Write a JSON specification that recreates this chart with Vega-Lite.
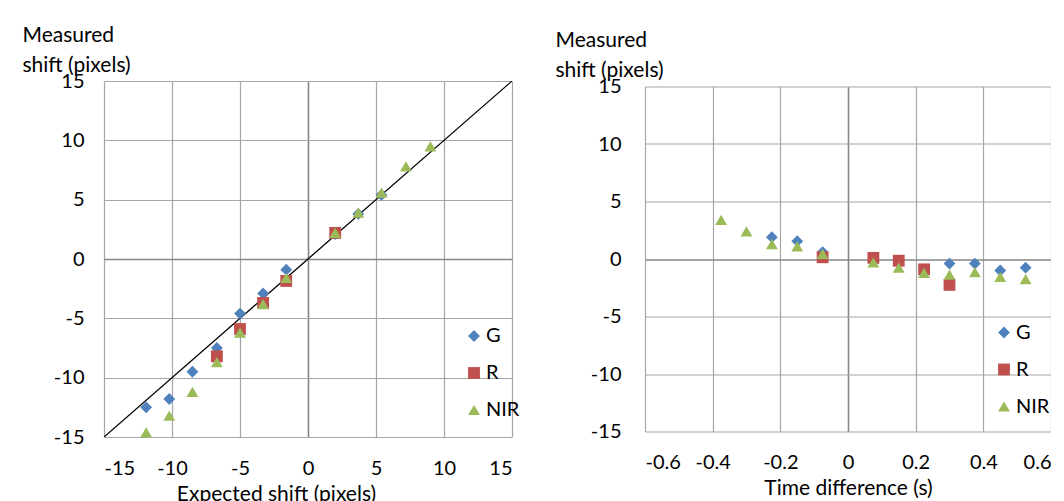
{
  "$schema": "https://vega.github.io/schema/vega-lite/v6.json",
  "padding": {"left": 22, "top": 24, "right": 0, "bottom": 0},
  "spacing": 35,
  "center": true,
  "background": "white",
  "config": {
    "font": "Lato",
    "view": {"stroke": null},
    "axis": {
      "grid": true,
      "gridColor": {"condition": {"test": "datum.value === 0", "value": "#868686"}, "value": "#a6a6a6"},
      "gridWidth": {"condition": {"test": "datum.value === 0", "value": 1.6}, "value": 1.2},
      "gridOpacity": 1,
      "domain": false, "ticks": false,
      "labelFont": "Lato", "labelFontSize": 20, "labelColor": "black",
      "labelExpr": "'' + datum.value",
      "titleFont": "Lato", "titleFontSize": 21, "titleFontWeight": "normal", "titleColor": "black"
    },
    "legend": {
      "labelFont": "Lato", "labelFontSize": 20, "labelColor": "black",
      "symbolSize": 140, "symbolStrokeWidth": 0, "symbolOpacity": 1, "rowPadding": 17, "labelOffset": 2
    }
  },
  "datasets": {
    "left": [
      {"expected": -11.9, "measured": -12.5, "band": "G"},
      {"expected": -10.2, "measured": -11.8, "band": "G"},
      {"expected": -8.5, "measured": -9.5, "band": "G"},
      {"expected": -6.7, "measured": -7.5, "band": "G"},
      {"expected": -5.0, "measured": -4.6, "band": "G"},
      {"expected": -3.3, "measured": -2.9, "band": "G"},
      {"expected": -1.6, "measured": -0.9, "band": "G"},
      {"expected": 2.0, "measured": 2.1, "band": "G"},
      {"expected": 3.7, "measured": 3.8, "band": "G"},
      {"expected": 5.4, "measured": 5.4, "band": "G"},
      {"expected": -6.7, "measured": -8.2, "band": "R"},
      {"expected": -5.0, "measured": -5.9, "band": "R"},
      {"expected": -3.3, "measured": -3.7, "band": "R"},
      {"expected": -1.6, "measured": -1.85, "band": "R"},
      {"expected": 2.0, "measured": 2.2, "band": "R"},
      {"expected": -11.9, "measured": -14.6, "band": "NIR"},
      {"expected": -10.2, "measured": -13.2, "band": "NIR"},
      {"expected": -8.5, "measured": -11.2, "band": "NIR"},
      {"expected": -6.7, "measured": -8.7, "band": "NIR"},
      {"expected": -5.0, "measured": -6.2, "band": "NIR"},
      {"expected": -3.3, "measured": -3.8, "band": "NIR"},
      {"expected": -1.6, "measured": -1.6, "band": "NIR"},
      {"expected": 2.0, "measured": 2.2, "band": "NIR"},
      {"expected": 3.7, "measured": 3.9, "band": "NIR"},
      {"expected": 5.4, "measured": 5.6, "band": "NIR"},
      {"expected": 7.2, "measured": 7.8, "band": "NIR"},
      {"expected": 9.0, "measured": 9.5, "band": "NIR"}
    ],
    "right": [
      {"dt": -0.225, "measured": 1.9, "band": "G"},
      {"dt": -0.15, "measured": 1.55, "band": "G"},
      {"dt": -0.075, "measured": 0.6, "band": "G"},
      {"dt": 0.3, "measured": -0.4, "band": "G"},
      {"dt": 0.375, "measured": -0.4, "band": "G"},
      {"dt": 0.45, "measured": -1.0, "band": "G"},
      {"dt": 0.525, "measured": -0.75, "band": "G"},
      {"dt": -0.075, "measured": 0.15, "band": "R"},
      {"dt": 0.075, "measured": 0.1, "band": "R"},
      {"dt": 0.15, "measured": -0.15, "band": "R"},
      {"dt": 0.225, "measured": -0.9, "band": "R"},
      {"dt": 0.3, "measured": -2.25, "band": "R"},
      {"dt": -0.375, "measured": 3.4, "band": "NIR"},
      {"dt": -0.3, "measured": 2.4, "band": "NIR"},
      {"dt": -0.225, "measured": 1.3, "band": "NIR"},
      {"dt": -0.15, "measured": 1.1, "band": "NIR"},
      {"dt": -0.075, "measured": 0.45, "band": "NIR"},
      {"dt": 0.075, "measured": -0.3, "band": "NIR"},
      {"dt": 0.15, "measured": -0.75, "band": "NIR"},
      {"dt": 0.225, "measured": -1.2, "band": "NIR"},
      {"dt": 0.3, "measured": -1.35, "band": "NIR"},
      {"dt": 0.375, "measured": -1.15, "band": "NIR"},
      {"dt": 0.45, "measured": -1.55, "band": "NIR"},
      {"dt": 0.525, "measured": -1.75, "band": "NIR"}
    ],
    "diag": [
      {"expected": -15, "measured": -15},
      {"expected": 15, "measured": 15}
    ]
  },
  "resolve": {"scale": {"color": "independent", "shape": "independent"}},
  "hconcat": [
    {
      "width": 408,
      "height": 356,
      "encoding": {
        "x": {"field": "expected", "type": "quantitative",
              "scale": {"domain": [-15, 15], "nice": false, "zero": false},
              "axis": {"values": [-15, -10, -5, 0, 5, 10, 15], "labelPadding": 21,
                       "title": "Expected shift (pixels)", "titleBaseline": "alphabetic", "titleY": 63, "titleX": 172, "titleAnchor": "middle"}},
        "y": {"field": "measured", "type": "quantitative",
              "scale": {"domain": [-15, 15], "nice": false, "zero": false},
              "axis": {"values": [-15, -10, -5, 0, 5, 10, 15], "labelPadding": 20,
                       "title": ["Measured", "shift (pixels)"], "titleAngle": 0, "titleAlign": "left",
                       "titleBaseline": "alphabetic", "titleLineHeight": 30, "titleX": -82, "titleY": -40}}
      },
      "layer": [
        {
          "data": {"name": "diag"},
          "mark": {"type": "line", "color": "black", "strokeWidth": 1.3, "clip": true}
        },
        {
          "data": {"name": "left"},
          "mark": {"type": "point", "filled": true, "size": 140, "opacity": 1, "strokeWidth": 0},
          "encoding": {
            "color": {"field": "band", "type": "nominal",
                      "scale": {"domain": ["G", "R", "NIR"], "range": ["#4F81BD", "#C0504D", "#9BBB59"]},
                      "legend": {"title": null, "orient": "none", "legendX": 360, "legendY": 245}},
            "shape": {"field": "band", "type": "nominal",
                      "scale": {"domain": ["G", "R", "NIR"], "range": ["diamond", "square", "triangle-up"]},
                      "legend": {"title": null, "orient": "none", "legendX": 360, "legendY": 245}}
          }
        }
      ]
    },
    {
      "width": 406,
      "height": 345,
      "data": {"name": "right"},
      "mark": {"type": "point", "filled": true, "size": 140, "opacity": 1, "strokeWidth": 0},
      "encoding": {
        "x": {"field": "dt", "type": "quantitative",
              "scale": {"domain": [-0.6, 0.6], "nice": false, "zero": false},
              "axis": {"values": [-0.6, -0.4, -0.2, 0, 0.2, 0.4, 0.6], "labelPadding": 21,
                       "title": "Time difference (s)", "titleBaseline": "alphabetic", "titleY": 63}},
        "y": {"field": "measured", "type": "quantitative",
              "scale": {"domain": [-15, 15], "nice": false, "zero": false},
              "axis": {"values": [-15, -10, -5, 0, 5, 10, 15], "labelPadding": 24,
                       "title": ["Measured", "shift (pixels)"], "titleAngle": 0, "titleAlign": "left",
                       "titleBaseline": "alphabetic", "titleLineHeight": 30, "titleX": -90, "titleY": -40}},
        "color": {"field": "band", "type": "nominal",
                  "scale": {"domain": ["G", "R", "NIR"], "range": ["#4F81BD", "#C0504D", "#9BBB59"]},
                  "legend": {"title": null, "orient": "none", "legendX": 349, "legendY": 236}},
        "shape": {"field": "band", "type": "nominal",
                  "scale": {"domain": ["G", "R", "NIR"], "range": ["diamond", "square", "triangle-up"]},
                  "legend": {"title": null, "orient": "none", "legendX": 349, "legendY": 236}}
      }
    }
  ]
}
